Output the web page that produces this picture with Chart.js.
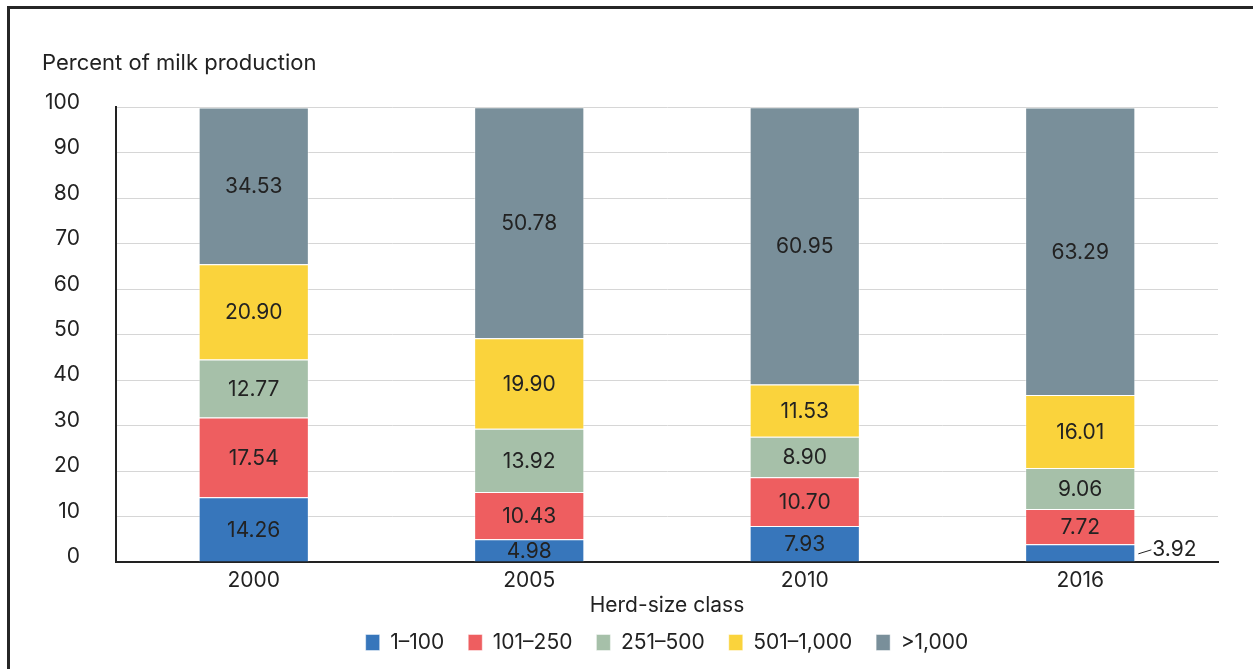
<!DOCTYPE html>
<html>
<head>
<meta charset="utf-8">
<script src="https://cdn.jsdelivr.net/npm/chart.js@4"></script>
<style>
  html, body { margin: 0; padding: 0; background: #fff; overflow: hidden; }
  #wrap { position: relative; width: 1253px; height: 669px; }
  #frame { position: absolute; left: 7px; top: 6px; right: -20px; bottom: -20px; border: 3px solid #262626; }
  canvas { position: absolute; left: 0; top: 0; }
</style>
</head>
<body>
<div id="wrap">
  <div id="frame"></div>
  <canvas id="chart" width="1253" height="669"></canvas>
</div>
<script>
  // ---- Data ---------------------------------------------------------------
  const years = ["2000", "2005", "2010", "2016"];
  const classNames = ["1–100", "101–250", "251–500", "501–1,000", ">1,000"];
  const herd1to100 = [14.26, 4.98, 7.93, 3.92];
  const herd101to250 = [17.54, 10.43, 10.7, 7.72];
  const herd251to500 = [12.77, 13.92, 8.9, 9.06];
  const herd501to1000 = [20.9, 19.9, 11.53, 16.01];
  const herdOver1000 = [34.53, 50.78, 60.95, 63.29];
  const yTicks = [0, 10, 20, 30, 40, 50, 60, 70, 80, 90, 100];

  const colors = ["#3776bb", "#ee5e60", "#a6c0a9", "#fad33c", "#798f9a"];
  const FONT = "Inter, 'Noto Sans', sans-serif";
  const INK = "#222";
  const FS = 21;

  // ---- Segment labels (value in the middle, small ones out to the right) ---
  const segLabels = {
    id: "segLabels",
    afterDatasetsDraw(chart) {
      const ctx = chart.ctx;
      ctx.save();
      ctx.font = FS + "px " + FONT;
      ctx.fillStyle = INK;
      ctx.strokeStyle = INK;
      ctx.lineWidth = 1;
      ctx.textBaseline = "middle";
      chart.data.datasets.forEach((ds, di) => {
        const meta = chart.getDatasetMeta(di);
        meta.data.forEach((bar, i) => {
          const v = ds.data[i];
          const p = bar.getProps(["x", "y", "base", "width"], true);
          const cy = (p.y + p.base) / 2;
          const txt = v.toFixed(2);
          if (v < 4.5) {
            // too thin to hold its label: leader line + text on the right
            const x0 = p.x + p.width / 2 + 3;
            ctx.beginPath();
            ctx.moveTo(x0, cy + 1);
            ctx.lineTo(x0 + 13, cy - 3);
            ctx.stroke();
            ctx.textAlign = "left";
            ctx.fillText(txt, x0 + 14, cy - 3);
          } else {
            ctx.textAlign = "center";
            ctx.fillText(txt, p.x, cy + 1);
          }
        });
      });
      ctx.restore();
    },
  };

  const series = [herd1to100, herd101to250, herd251to500, herd501to1000, herdOver1000];

  new Chart(document.getElementById("chart").getContext("2d"), {
    type: "bar",
    data: {
      labels: years,
      datasets: series.map((d, k) => ({
        label: classNames[k],
        data: d,
        backgroundColor: colors[k],
        borderColor: "rgba(255,255,255,0.45)",
        borderWidth: 1,
        categoryPercentage: 1,
        barPercentage: 0.4,
      })),
    },
    options: {
      responsive: false,
      animation: false,
      devicePixelRatio: 1,
      layout: { padding: { left: 42, right: 35, top: 0, bottom: 6 } },
      plugins: {
        tooltip: { enabled: false },
        title: {
          display: true,
          text: "Percent of milk production",
          align: "start",
          color: INK,
          font: { family: FONT, size: 22, weight: "normal", lineHeight: 1.2 },
          padding: { top: 50, bottom: 31 },
        },
        legend: {
          position: "bottom",
          fullSize: false,
          labels: {
            color: INK,
            font: { family: FONT, size: FS, lineHeight: 1 },
            boxWidth: 14,
            boxHeight: 16,
            padding: 24,
          },
        },
      },
      scales: {
        x: {
          stacked: true,
          grid: { display: false },
          border: { display: true, color: INK, width: 2 },
          ticks: { color: INK, font: { family: FONT, size: FS, lineHeight: 1 }, padding: 0 },
          title: {
            display: true,
            text: "Herd-size class",
            color: INK,
            font: { family: FONT, size: FS, lineHeight: 1 },
            padding: { top: 4, bottom: -8 },
          },
        },
        y: {
          stacked: true,
          min: 0,
          max: 100,
          afterBuildTicks: (scale) => {
            scale.ticks = yTicks.map((v) => ({ value: v }));
          },
          afterFit: (scale) => {
            scale.width = 74;
          },
          grid: { color: "#d6d6d6", lineWidth: 1, drawTicks: false },
          border: { display: true, color: INK, width: 2 },
          ticks: {
            color: INK,
            font: { family: FONT, size: FS },
            padding: 36,
            labelOffset: -5,
          },
        },
      },
    },
    plugins: [segLabels],
  });
</script>
</body>
</html>
